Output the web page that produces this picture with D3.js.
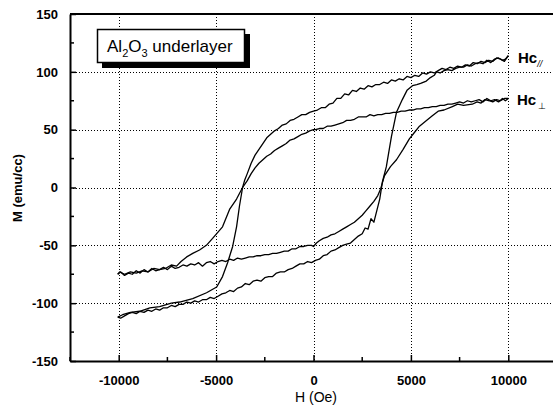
<!DOCTYPE html>
<html><head><meta charset="utf-8">
<script src="https://cdn.jsdelivr.net/npm/d3@7"></script>
<style>
html,body{margin:0;padding:0;background:#fff;}
svg{display:block;}
</style></head>
<body>
<svg id="chart" width="553" height="407"></svg>
<script>
// ---- data ----
// Hc parallel loop: descending branch (H from +10000 to -10000)
const parDownH = [10000,9800,9600,9400,9200,9000,8800,8600,8400,8200,8000,7800,7600,7400,7200,7000,6800,6600,6400,6200,6000,5800,5600,5400,5200,5000,4800,4600,4400,4200,4000,3800,3600,3400,3200,3000,2800,2600,2400,2200,2000,1800,1600,1400,1200,1000,800,600,400,200,0,-200,-400,-600,-800,-1000,-1200,-1400,-1600,-1800,-2000,-2200,-2400,-2600,-2800,-3000,-3200,-3400,-3540,-3640,-3800,-3950,-4150,-4410,-4670,-4970,-5490,-6200,-6870,-7300,-7900,-8400,-8920,-9400,-9800,-10050];
const parDownM = [114,109,111,112,109,110,108,109,107,108,105,106,104,105,103,104,102,103,101,99,100,98,99,96,97,95,96,93,94,92,93,90,91,89,89,87,88,85,86,83,84,80,81,77,77,73,72,69,69,67,66,65,63,63,61,59,58,55,54,51,49,46,43,38,33,28,21,12,6,0,-16,-34,-51,-65,-77,-86,-91,-96,-99,-100,-103,-104,-107,-108,-110,-112];
// Hc parallel loop: ascending branch (H from -10000 to +10000)
const parUpH = [-10050,-9900,-9700,-9500,-9300,-9100,-8900,-8700,-8500,-8300,-8100,-7900,-7700,-7500,-7300,-7100,-6900,-6700,-6500,-6300,-6100,-5900,-5700,-5500,-5300,-5100,-4900,-4700,-4500,-4300,-4100,-3900,-3700,-3500,-3300,-3100,-2900,-2700,-2500,-2300,-2100,-1900,-1700,-1500,-1300,-1100,-900,-700,-500,-300,-100,100,300,500,700,900,1100,1300,1500,1700,1900,2100,2300,2500,2650,2800,2950,3100,3250,3400,3540,3740,4000,4260,4560,4800,5080,5300,5500,5790,6000,6200,6310,6500,6700,6900,7100,7300,7500,7700,7900,8100,8300,8500,8700,8900,9100,9300,9500,9700,9850,10000];
const parUpM = [-112,-113,-111,-109,-108,-109,-107,-108,-106,-107,-105,-106,-104,-104,-102,-103,-101,-101,-99,-100,-98,-99,-97,-97,-95,-96,-94,-92,-91,-89,-90,-87,-86,-83,-84,-81,-80,-81,-78,-77,-77,-74,-73,-73,-71,-70,-68,-66,-66,-64,-65,-63,-62,-59,-58,-55,-54,-52,-50,-49,-48,-45,-42,-40,-35,-36,-27,-30,-20,-10,5,18,44,65,76,84,88,89,90,92,95,97,100,99,101,102,101,103,104,104,106,105,107,108,107,110,108,111,112,110,111,114];
// Hc perpendicular loop: descending branch
const perDownH = [10000,9850,9700,9500,9300,9100,8900,8700,8500,8300,8100,7900,7700,7500,7300,7100,6900,6700,6500,6300,6100,5900,5700,5500,5300,5100,4900,4700,4500,4300,4100,3900,3700,3500,3300,3100,2900,2700,2500,2300,2100,1900,1700,1500,1300,1100,900,700,500,300,100,0,-200,-400,-600,-800,-1000,-1200,-1400,-1600,-1800,-2000,-2200,-2400,-2600,-2800,-3000,-3200,-3400,-3640,-3950,-4310,-4670,-5180,-5500,-5850,-6200,-6510,-6800,-7030,-7300,-7600,-7900,-8200,-8500,-8800,-9100,-9400,-9700,-9950,-10050];
const perDownM = [77,75,77,74,76,75,77,74,76,75,74,75,73,74,73,72,72,71,71,70,70,69,69,68,68,67,67,66,66,65,65,64,64,63,63,62,63,61,61,61,59,58,58,56,55,54,53,53,51,51,50,50,49,47,46,44,42,41,38,36,34,32,29,27,24,21,17,12,6,0,-10,-19,-34,-44,-50,-54,-57,-60,-64,-68,-67,-70,-71,-70,-73,-72,-74,-73,-75,-73,-75];
// Hc perpendicular loop: ascending branch
const perUpH = [-10050,-9900,-9700,-9500,-9300,-9100,-8900,-8700,-8500,-8300,-8100,-7900,-7700,-7500,-7300,-7100,-6900,-6700,-6500,-6300,-6100,-5900,-5700,-5500,-5300,-5100,-4900,-4700,-4500,-4300,-4100,-3900,-3700,-3500,-3300,-3100,-2900,-2700,-2500,-2300,-2100,-1900,-1700,-1500,-1300,-1100,-900,-700,-500,-300,-100,0,150,300,500,700,900,1100,1300,1500,1700,1900,2100,2300,2500,2700,2900,3100,3300,3450,3640,3950,4260,4600,4920,5200,5440,5800,6100,6400,6700,7130,7400,7700,8150,8400,8600,8800,9030,9200,9400,9600,9800,10000];
const perUpM = [-75,-73,-76,-74,-75,-72,-74,-71,-73,-70,-72,-71,-69,-71,-68,-70,-69,-67,-68,-66,-67,-65,-68,-65,-64,-66,-64,-63,-64,-62,-63,-61,-62,-61,-60,-60,-59,-59,-58,-58,-57,-57,-56,-55,-55,-53,-53,-51,-51,-50,-50,-51,-48,-46,-44,-43,-41,-40,-38,-36,-34,-32,-30,-27,-24,-20,-16,-12,-7,-1,10,18,24,33,42,48,53,58,62,66,67,70,72,71,72,74,73,76,75,74,76,75,77,77];

const xTicks = [-10000,-5000,0,5000,10000];
const xTickLabels = ["-10000","-5000","0","5000","10000"];
const yTicks = [-150,-100,-50,0,50,100,150];
const yTickLabels = ["-150","-100","-50","0","50","100","150"];
const xMinor = [-12500,-7500,-2500,2500,7500,12500];
const yMinor = [-125,-75,-25,25,75,125];
const xTitle = "H (Oe)";
const yTitle = "M (emu/cc)";
const seriesLabels = ["Hc", "Hc"];

// ---- drawing ----
const svg = d3.select("#chart");
const L = 70, R = 557, T = 14, B = 361;
const x = d3.scaleLinear().domain([-12500,12500]).range([L,R]);
const y = d3.scaleLinear().domain([-150,150]).range([B,T]);
const font = "Arial, 'Liberation Sans', Helvetica, sans-serif";

// grid
const grid = svg.append("g").attr("stroke","#000").attr("stroke-width",1).attr("stroke-dasharray","1,2");
grid.selectAll("line.v").data(xTicks).join("line")
  .attr("x1",d=>Math.round(x(d))+0.5).attr("x2",d=>Math.round(x(d))+0.5).attr("y1",T).attr("y2",B);
grid.selectAll("line.h").data(yTicks.filter(d=>d>-150&&d<150)).join("line").attr("class","h")
  .attr("y1",d=>Math.round(y(d))+0.5).attr("y2",d=>Math.round(y(d))+0.5).attr("x1",L).attr("x2",R);

// axes with inward ticks
const xAxis = d3.axisBottom(x).tickValues(xTicks).tickSizeInner(-6).tickSizeOuter(0).tickFormat((d,i)=>xTickLabels[i]).tickPadding(12);
const gx = svg.append("g").attr("transform",`translate(0,${B})`).call(xAxis);
const yAxis = d3.axisLeft(y).tickValues(yTicks).tickSizeInner(-6).tickSizeOuter(0).tickFormat((d,i)=>yTickLabels[i]).tickPadding(12);
const gy = svg.append("g").attr("transform",`translate(${L},0)`).call(yAxis);
[gx,gy].forEach(g=>{
  g.select(".domain").attr("stroke","#000").attr("stroke-width",2);
  g.selectAll(".tick line").attr("stroke","#000").attr("stroke-width",1.5);
  g.selectAll(".tick text").attr("font-family",font).attr("font-size",13).attr("font-weight","bold").attr("fill","#000");
});
gx.selectAll(".tick text").attr("dy","0.9em");
// minor ticks
svg.append("g").selectAll("line").data(xMinor).join("line")
  .attr("x1",d=>x(d)).attr("x2",d=>x(d)).attr("y1",B).attr("y2",B-4).attr("stroke","#000").attr("stroke-width",1.5);
svg.append("g").selectAll("line").data(yMinor).join("line")
  .attr("y1",d=>y(d)).attr("y2",d=>y(d)).attr("x1",L).attr("x2",L+4).attr("stroke","#000").attr("stroke-width",1.5);
// top border
svg.append("line").attr("x1",L).attr("x2",R).attr("y1",T).attr("y2",T).attr("stroke","#000").attr("stroke-width",2);

// curves
const line = d3.line().x(d=>x(d[0])).y(d=>y(d[1]));
const branches = [[parDownH,parDownM],[parUpH,parUpM],[perDownH,perDownM],[perUpH,perUpM]];
svg.append("g").selectAll("path").data(branches).join("path")
  .attr("d",b=>line(b[0].map((h,i)=>[h,b[1][i]])))
  .attr("fill","none").attr("stroke","#000").attr("stroke-width",1.3).attr("stroke-linejoin","round");

// axis titles
svg.append("text").attr("x",316).attr("y",402).attr("text-anchor","middle")
  .attr("font-family",font).attr("font-size",14).attr("fill","#000").text(xTitle);
svg.append("text").attr("transform","translate(22,188) rotate(-90)").attr("text-anchor","middle")
  .attr("font-family",font).attr("font-size",13).attr("font-weight","bold").attr("fill","#000").text(yTitle);

// inset label box with shadow
svg.append("rect").attr("x",102).attr("y",34).attr("width",148).attr("height",34).attr("fill","#000");
svg.append("rect").attr("x",97.5).attr("y",29.5).attr("width",147).attr("height",33).attr("fill","#fff").attr("stroke","#000").attr("stroke-width",1.5);
const t = svg.append("text").attr("x",107).attr("y",52).attr("font-family",font).attr("font-size",17).attr("fill","#000");
t.append("tspan").text("Al");
t.append("tspan").attr("font-size",11).attr("dy",5).text("2");
t.append("tspan").attr("dy",-5).text("O");
t.append("tspan").attr("font-size",11).attr("dy",5).text("3");
t.append("tspan").attr("dy",-5).text(" underlayer");

// series labels
const h1 = svg.append("text").attr("x",518).attr("y",63).attr("font-family",font).attr("font-size",15).attr("font-weight","bold").attr("fill","#000");
h1.append("tspan").text(seriesLabels[0]);
h1.append("tspan").attr("font-size",9).attr("font-style","italic").attr("font-weight","normal").attr("dy",4).text("//");
const h2 = svg.append("text").attr("x",517).attr("y",105).attr("font-family",font).attr("font-size",15).attr("font-weight","bold").attr("fill","#000");
h2.append("tspan").text(seriesLabels[1]);
h2.append("tspan").attr("font-size",9).attr("font-weight","normal").attr("dx",2).attr("dy",4).text("⊥");
</script>
</body></html>
